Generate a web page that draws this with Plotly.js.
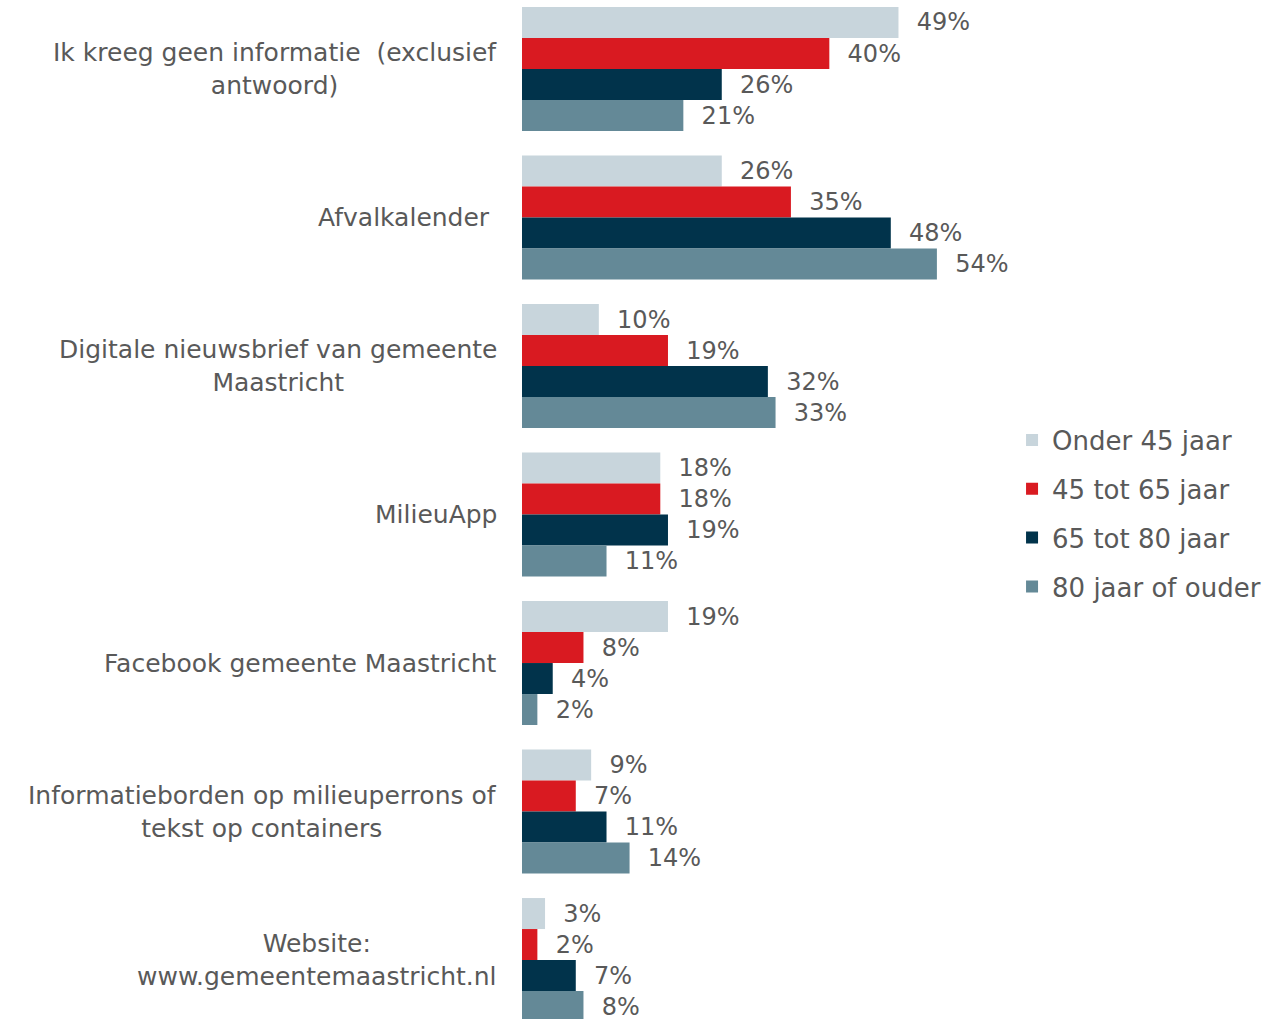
<!DOCTYPE html>
<html>
<head>
<meta charset="utf-8">
<script src="https://cdn.plot.ly/plotly-3.0.1.min.js"></script>
<style>html,body{margin:0;padding:0;background:#fff;}#chart{width:1288px;height:1019px;}</style>
</head>
<body>
<div id="chart"></div>
<script>
var categories = [
  "Ik kreeg geen informatie \u00a0(exclusief<br>antwoord)",
  "Afvalkalender\u00a0",
  "Digitale nieuwsbrief van gemeente<br>Maastricht",
  "MilieuApp",
  "Facebook gemeente Maastricht",
  "Informatieborden op milieuperrons of<br>tekst op containers",
  "Website:<br>www.gemeentemaastricht.nl"
];
var seriesNames = ["Onder 45 jaar", "45 tot 65 jaar", "65 tot 80 jaar", "80 jaar of ouder"];
var onder45   = [49, 26, 10, 18, 19, 9, 3];
var van45tot65 = [40, 35, 19, 18, 8, 7, 2];
var van65tot80 = [26, 48, 32, 19, 4, 11, 7];
var ouder80   = [21, 54, 33, 11, 2, 14, 8];
var colors = ["#C8D5DC", "#D91A21", "#01334B", "#648997"];

var seriesValues = [onder45, van45tot65, van65tot80, ouder80];
var catIdx = categories.map(function(_, i){ return i; });
var FONT = "DejaVu Sans, Liberation Sans, Arial, sans-serif";
var TXT = "#595959";

var traces = seriesValues.map(function(vals, k){
  return {
    type: "bar",
    orientation: "h",
    name: seriesNames[k],
    legendgroup: "g" + k,
    x: vals,
    y: catIdx,
    marker: {color: colors[k], line: {width: 0}},
    text: vals.map(function(v){ return "\u00a0\u00a0" + v + "%"; }),
    textposition: "outside",
    constraintext: "none",
    cliponaxis: false,
    textfont: {family: FONT, size: 24, color: TXT},
    hoverinfo: "skip"
  };
});

var annotations = categories.map(function(c, i){
  return {
    xref: "paper", yref: "y",
    x: 0, y: i,
    xanchor: "right", yanchor: "middle",
    xshift: -23,
    align: "center",
    text: c,
    showarrow: false,
    font: {family: FONT, size: 25, color: TXT}
  };
});

var layout = {
  width: 1288, height: 1019,
  margin: {l: 522, r: 305, t: 0, b: 0, pad: 0},
  paper_bgcolor: "#fff", plot_bgcolor: "#fff",
  barmode: "group",
  bargap: 0.165,
  bargroupgap: 0,
  font: {family: FONT, color: TXT},
  xaxis: {range: [0, 60], visible: false, showgrid: false, zeroline: false, fixedrange: true},
  yaxis: {type: "linear", range: [6.397, -0.4646], visible: false, showgrid: false, zeroline: false, fixedrange: true},
  showlegend: true,
  legend: {
    x: 1.063, xanchor: "left",
    y: 0.496, yanchor: "middle",
    traceorder: "grouped",
    tracegroupgap: 12,
    font: {family: FONT, size: 26, color: TXT},
    bgcolor: "rgba(0,0,0,0)",
    borderwidth: 0
  },
  annotations: annotations
};

Plotly.newPlot("chart", traces, layout, {displayModeBar: false, staticPlot: true});
</script>
</body>
</html>
